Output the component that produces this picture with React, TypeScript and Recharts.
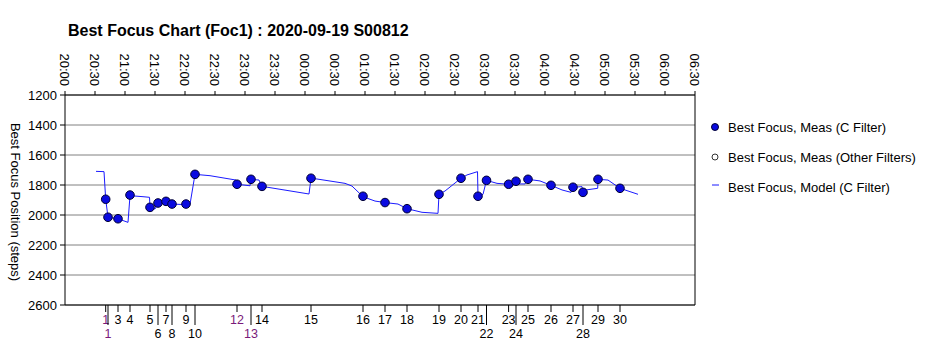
import React from "react";
import {
  CartesianGrid,
  ComposedChart,
  Line,
  ReferenceLine,
  Scatter,
  XAxis,
  YAxis,
} from "recharts";

// minutes after 20:00
const hourTicks = [0, 30, 60, 90, 120, 150, 180, 210, 240, 270, 300, 330, 360, 390, 420, 450, 480, 510, 540, 570, 600, 630];
const hourLabels = [
  "20:00", "20:30", "21:00", "21:30", "22:00", "22:30", "23:00", "23:30", "00:00", "00:30", "01:00",
  "01:30", "02:00", "02:30", "03:00", "03:30", "04:00", "04:30", "05:00", "05:30", "06:00", "06:30",
];
const yTicks = [1200, 1400, 1600, 1800, 2000, 2200, 2400, 2600];

const eventTimes = [40.7, 43, 53, 65, 85, 93, 101, 107, 121, 130, 172, 186, 197, 246, 298, 320, 342, 374, 396, 413, 421.5, 443.6, 451, 463, 486, 508, 518, 533, 555];
const eventLabels = ["1", "1", "3", "4", "5", "6", "7", "8", "9", "10", "12", "13", "14", "15", "16", "17", "18", "19", "20", "21", "22", "23", "24", "25", "26", "27", "28", "29", "30"];
const eventRows = [1, 2, 1, 1, 1, 2, 1, 2, 1, 2, 1, 2, 1, 1, 1, 1, 1, 1, 1, 1, 2, 1, 2, 1, 1, 1, 2, 1, 1];
const purpleLabels = [0, 1, 10, 11];

const measValues = [1895, 2015, 2025, 1867, 1949, 1920, 1909, 1927, 1927, 1729, 1795, 1762, 1809, 1755, 1875, 1917, 1958, 1862, 1755, 1875, 1769, 1795, 1775, 1762, 1802, 1815, 1849, 1762, 1822];

const modelTimes = [31, 39, 40.7, 43, 53, 63, 65, 78, 84.5, 85, 90, 93, 101, 107, 121, 125, 130, 145, 171, 172, 185, 186, 194, 197, 244, 246, 252, 280, 287, 298, 310, 320, 333, 342, 357, 373, 374, 380, 396, 402, 412.5, 413, 418, 421.5, 432, 443.6, 447, 451, 453, 460, 463, 475, 486, 497, 506, 508, 517, 518, 521, 532.7, 533, 543, 555, 573];
const modelValues = [1709, 1711, 1895, 2015, 2025, 2049, 1871, 1878, 1882, 1949, 1960, 1922, 1909, 1927, 1931, 1929, 1729, 1738, 1767, 1795, 1805, 1762, 1767, 1809, 1860, 1755, 1760, 1789, 1807, 1878, 1907, 1917, 1927, 1958, 1982, 1989, 1862, 1840, 1755, 1733, 1711, 1875, 1862, 1769, 1789, 1795, 1811, 1775, 1793, 1793, 1762, 1773, 1802, 1833, 1849, 1815, 1811, 1849, 1833, 1822, 1762, 1767, 1822, 1862];

const measData = eventTimes.map((t, i) => ({ t, v: measValues[i] }));
const modelData = modelTimes.map((t, i) => ({ t, v: modelValues[i] }));

const FONT = "'Liberation Sans', Arial, sans-serif";

function TopTick(props: any) {
  const { x, y, payload } = props;
  const i = hourTicks.indexOf(payload.value);
  return (
    <text
      transform={`translate(${x},${y}) rotate(90)`}
      textAnchor="end"
      dy="0.35em"
      fontSize={13}
      fontFamily={FONT}
      fill="#000"
    >
      {hourLabels[i]}
    </text>
  );
}

function EventTick(props: any) {
  const { x, y, payload } = props;
  const i = eventTimes.indexOf(payload.value);
  const row = eventRows[i];
  return (
    <g>
      <line x1={x} x2={x} y1={y} y2={y + (row === 1 ? 7 : 20)} stroke="#000" />
      <text
        x={x}
        y={y + (row === 1 ? 19 : 33)}
        textAnchor="middle"
        fontSize={12.5}
        fontFamily={FONT}
        fill={purpleLabels.includes(i) ? "#7a1a7a" : "#000"}
      >
        {eventLabels[i]}
      </text>
    </g>
  );
}

function Dot(props: any) {
  const { cx, cy } = props;
  return <circle cx={cx} cy={cy} r={4.3} fill="#0a0ae0" stroke="#000033" strokeWidth={1} />;
}

export default function App() {
  return (
    <div style={{ position: "absolute", left: 0, top: 0, width: 925, height: 340, background: "#fff" }}>
      <ComposedChart width={925} height={340} margin={{ top: 0, right: 230, bottom: 0, left: 0 }}>
        <CartesianGrid xAxisId="top" vertical={false} stroke="#808080" />
        <XAxis
          xAxisId="top"
          orientation="top"
          type="number"
          dataKey="t"
          domain={[0, 630]}
          ticks={hourTicks}
          interval={0}
          height={95}
          tickSize={4}
          tickMargin={5}
          stroke="#000"
          tick={<TopTick />}
          allowDataOverflow
        />
        <XAxis
          xAxisId="ev"
          orientation="bottom"
          type="number"
          dataKey="t"
          domain={[0, 630]}
          ticks={eventTimes}
          interval={0}
          height={35}
          tickSize={0}
          tickMargin={0}
          tickLine={false}
          stroke="#000"
          tick={<EventTick />}
          allowDataOverflow
        />
        <YAxis
          type="number"
          dataKey="v"
          reversed
          domain={[1200, 2600]}
          ticks={yTicks}
          interval={0}
          width={65}
          tickSize={5}
          tickMargin={3}
          stroke="#000"
          tick={{ fill: "#000", fontSize: 13, fontFamily: FONT }}
        />
        <ReferenceLine xAxisId="top" x={630} stroke="#000" />
        <Line
          xAxisId="top"
          data={modelData}
          dataKey="v"
          type="linear"
          stroke="#1a1aff"
          strokeWidth={1}
          dot={false}
          isAnimationActive={false}
        />
        <Scatter xAxisId="ev" data={measData} dataKey="v" shape={<Dot />} isAnimationActive={false} />
      </ComposedChart>
      <svg
        width={925}
        height={340}
        style={{ position: "absolute", left: 0, top: 0, pointerEvents: "none" }}
        fontFamily={FONT}
      >
        <text x={68} y={36} fontSize={16} fontWeight="bold" fill="#000">
          Best Focus Chart (Foc1) : 2020-09-19 S00812
        </text>
        <text transform="translate(16,202) rotate(90)" textAnchor="middle" dy="0.35em" fontSize={13} fill="#000">
          Best Focus Position (steps)
        </text>
        <circle cx={715} cy={127} r={3.5} fill="#0a0ae0" stroke="#000033" />
        <text x={728} y={131.5} fontSize={13} fill="#000">Best Focus, Meas (C Filter)</text>
        <circle cx={715} cy={157} r={3} fill="#fff" stroke="#333" />
        <text x={728} y={161.5} fontSize={13} fill="#000">Best Focus, Meas (Other Filters)</text>
        <line x1={712} x2={719} y1={185} y2={185} stroke="#1a1aff" />
        <text x={728} y={191.5} fontSize={13} fill="#000">Best Focus, Model (C Filter)</text>
      </svg>
    </div>
  );
}
